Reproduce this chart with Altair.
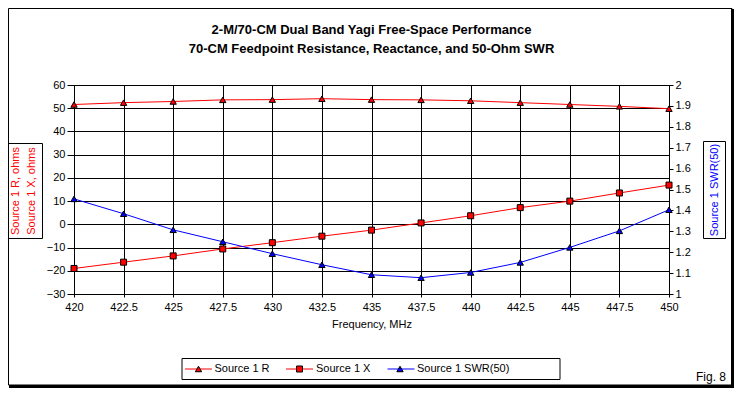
import altair as alt
import pandas as pd

# ---- data ----
freq = [420, 422.5, 425, 427.5, 430, 432.5, 435, 437.5, 440, 442.5, 445, 447.5, 450]
res_r = [51.6, 52.4, 52.9, 53.6, 53.7, 54.1, 53.7, 53.6, 53.2, 52.4, 51.6, 50.8, 49.8]
res_x = [-19.0, -16.3, -13.6, -10.6, -7.9, -5.1, -2.5, 0.6, 3.7, 7.2, 10.0, 13.5, 16.9]
swr = [1.455, 1.384, 1.307, 1.250, 1.193, 1.140, 1.092, 1.078, 1.103, 1.151, 1.223, 1.302, 1.403]

x_ticks = freq
left_ticks = [-30, -20, -10, 0, 10, 20, 30, 40, 50, 60]
right_ticks = [1, 1.1, 1.2, 1.3, 1.4, 1.5, 1.6, 1.7, 1.8, 1.9, 2]

title_lines = ["2-M/70-CM Dual Band Yagi Free-Space Performance",
               "70-CM Feedpoint Resistance, Reactance, and 50-Ohm SWR"]
left_title = ["Source 1 R, ohms", "Source 1 X, ohms"]
right_title = "Source 1 SWR(50)"
x_title = "Frequency, MHz"
legend_labels = ["Source 1 R", "Source 1 X", "Source 1 SWR(50)"]
fig_label = "Fig. 8"

FONT = "Liberation Sans"
RED = "#ff0000"
BLUE = "#0000ff"
W, H = 595, 209

df = pd.DataFrame({"f": freq, "R": res_r, "X": res_x, "SWR": swr})

common_axis = dict(labelOverlap=False, labelBound=False, labelFontSize=11, labelFont=FONT,
                   labelColor="black", domainColor="black", tickColor="black",
                   labelFlush=False)

x_axis = alt.Axis(values=x_ticks, format=".6~g", grid=True, gridColor="black",
                  gridOpacity=1, tickSize=3, labelPadding=4, title=x_title,
                  titleFont=FONT, titleFontSize=11, titleFontWeight="normal",
                  titleColor="black", titlePadding=6, **common_axis)
x_scale = alt.Scale(domain=[420, 450], nice=False, zero=False)

left_axis = alt.Axis(values=left_ticks, format=".6~g", grid=True, gridColor="black",
                     gridOpacity=1, tickSize=7, labelPadding=2, title=None, tickCount=10,
                     **common_axis)
left_scale = alt.Scale(domain=[-30, 60], nice=False, zero=False)

right_axis = alt.Axis(orient="right", values=right_ticks, format=".6~g", grid=False,
                      tickSize=4, labelPadding=2, title=None, tickCount=11, **common_axis)
right_scale = alt.Scale(domain=[1, 2], nice=False, zero=False)


def X():
    return alt.X("f:Q", scale=x_scale, axis=x_axis)


def YL(field):
    return alt.Y(f"{field}:Q", scale=left_scale, axis=left_axis)


def YR(field):
    return alt.Y(f"{field}:Q", scale=right_scale, axis=right_axis)


base = alt.Chart(df)
r_line = base.mark_line(color=RED, strokeWidth=1).encode(x=X(), y=YL("R"))
r_pts = base.mark_point(shape="triangle-up", size=40, filled=True, fill=RED,
                        stroke="black", strokeWidth=1, opacity=1).encode(x=X(), y=YL("R"))
x_line = base.mark_line(color=RED, strokeWidth=1).encode(x=X(), y=YL("X"))
x_pts = base.mark_point(shape="square", size=36, filled=True, fill=RED,
                        stroke="black", strokeWidth=1, opacity=1).encode(x=X(), y=YL("X"))
left = alt.layer(r_line, r_pts, x_line, x_pts)

s_line = base.mark_line(color=BLUE, strokeWidth=1).encode(x=X(), y=YR("SWR"))
s_pts = base.mark_point(shape="triangle-up", size=40, filled=True, fill=BLUE,
                        stroke="black", strokeWidth=1, opacity=1).encode(x=X(), y=YR("SWR"))
right = alt.layer(s_line, s_pts)


def txt(label, x, y, size=11, color="black", weight="normal", angle=0, align="center",
        font=FONT):
    d = pd.DataFrame({"t": [label]})
    return alt.Chart(d).mark_text(fontSize=size, color=color, fontWeight=weight, angle=angle,
                                  align=align, baseline="middle", font=font).encode(
        x=alt.value(x), y=alt.value(y), text="t:N")


def box(x1, x2, y1, y2, width=1, fill=None):
    d = pd.DataFrame({"t": ["b"]})
    kw = dict(strokeWidth=width, stroke="black")
    if fill:
        kw = dict(fill=fill, strokeWidth=0)
    else:
        kw["fillOpacity"] = 0
    return alt.Chart(d).mark_rect(**kw).encode(
        x=alt.value(x1), x2=alt.value(x2), y=alt.value(y1), y2=alt.value(y2))


deco = []
# outer frame
deco.append(box(-65.5, 658, -76.5, 300))
deco.append(box(657, 661, -76, 303, fill="black"))
deco.append(box(-65, 661, 300, 303, fill="black"))
# titles
deco.append(txt(title_lines[0], W / 2, -55, size=13, weight="bold"))
deco.append(txt(title_lines[1], W / 2, -36, size=13, weight="bold"))
# left axis title box
deco.append(box(-65.5, -31.5, 58.5, 153.5))
deco.append(txt(left_title[0], -58, 106, size=11, color=RED, angle=270))
deco.append(txt(left_title[1], -42.5, 106, size=11, color=RED, angle=270))
# right axis title box
deco.append(box(629.5, 651.5, 56.5, 153.5))
deco.append(txt(right_title, 640.5, 105, size=11, color=BLUE, angle=270))
# legend
deco.append(box(108, 486, 273.5, 294.5))
ly = 284
items = [(111, 138, 124.5, 140.5, RED, "triangle-up"),
         (212, 239, 225.5, 242, RED, "square"),
         (313.5, 340.5, 326, 343, BLUE, "triangle-up")]
dl = pd.DataFrame({"t": ["l"]})
for (a, b, m, tx, col, shp), lab in zip(items, legend_labels):
    deco.append(alt.Chart(dl).mark_rule(color=col, strokeWidth=1).encode(
        x=alt.value(a), x2=alt.value(b), y=alt.value(ly)))
    deco.append(alt.Chart(dl).mark_point(shape=shp, size=36 if shp == "square" else 40,
                                         filled=True, fill=col, stroke="black",
                                         strokeWidth=1, opacity=1).encode(
        x=alt.value(m), y=alt.value(ly)))
    deco.append(txt(lab, tx, ly, size=11, align="left"))
# fig label
deco.append(txt(fig_label, 652, 292, size=12, align="right"))

chart = alt.layer(left, right, *deco).resolve_scale(y="independent").properties(
    width=W, height=H,
    padding={"left": 66, "top": 77, "right": 65, "bottom": 94},
    autosize=alt.AutoSizeParams(type="none"),
    background="white",
).configure_view(stroke="black", strokeWidth=1)

chart.save("out.html", embed_options={"renderer": "svg", "actions": False})
